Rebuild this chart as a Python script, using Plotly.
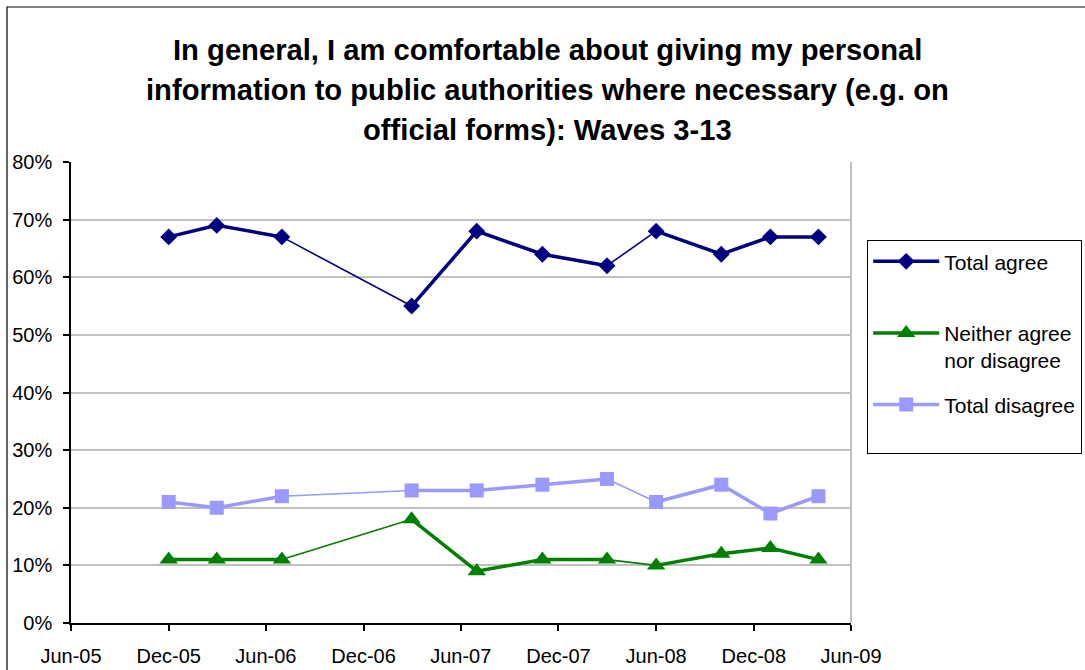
import plotly.graph_objects as go

# ---- data ----
dates = ["2005-12-01", "2006-03-01", "2006-07-01", "2007-03-01", "2007-07-01",
         "2007-11-01", "2008-03-01", "2008-06-01", "2008-10-01", "2009-01-01", "2009-04-01"]
total_agree = [67, 69, 67, 55, 68, 64, 62, 68, 64, 67, 67]
neither = [11, 11, 11, 18, 9, 11, 11, 10, 12, 13, 11]
total_disagree = [21, 20, 22, 23, 23, 24, 25, 21, 24, 19, 22]
thin_after = [2, 6]  # segments after these indices are drawn thin

tick_vals = ["2005-06-01", "2005-12-01", "2006-06-01", "2006-12-01", "2007-06-01",
             "2007-12-01", "2008-06-01", "2008-12-01", "2009-06-01"]
tick_text = ["Jun-05", "Dec-05", "Jun-06", "Dec-06", "Jun-07",
             "Dec-07", "Jun-08", "Dec-08", "Jun-09"]
y_ticks = [0, 10, 20, 30, 40, 50, 60, 70, 80]
y_text = ["0%", "10%", "20%", "30%", "40%", "50%", "60%", "70%", "80%"]

title_lines = ["In general, I am comfortable about giving my personal",
               "information to public authorities where necessary (e.g. on",
               "official forms): Waves 3-13"]

series = [
    ("Total agree<br> ", total_agree, "#000080", "diamond", 13),
    ("Neither agree<br>nor disagree", neither, "#008000", "triangle-up", 16),
    ("Total disagree<br> ", total_disagree, "#9999FF", "square", 14),
]

FONT = "Liberation Sans, Arial, sans-serif"
W, H = 1085, 670
# plot area in page pixels: x 71..851, y 162..623
L, R, T, B = 71, W - 851, 162, H - 623
PW, PH = W - L - R, H - T - B


def px_x(p):
    return (p - L) / PW


def px_y(p):
    return (H - B - p) / PH


fig = go.Figure()

for i, (name, vals, color, sym, msize) in enumerate(series):
    # thin segments
    tx, ty = [], []
    for k in thin_after:
        tx += [dates[k], dates[k + 1], None]
        ty += [vals[k], vals[k + 1], None]
    fig.add_trace(go.Scatter(x=tx, y=ty, mode="lines", showlegend=False,
                             hoverinfo="skip", legendgroup=f"g{i}",
                             line=dict(color=color, width=1.6)))
    # thick segments + markers
    xx, yy = [], []
    for k, (d, v) in enumerate(zip(dates, vals)):
        xx.append(d)
        yy.append(v)
        if k in thin_after:
            xx.append(None)
            yy.append(None)
    fig.add_trace(go.Scatter(x=xx, y=yy, mode="lines+markers", name=name,
                             legendgroup=f"g{i}", connectgaps=False,
                             line=dict(color=color, width=3.5),
                             marker=dict(symbol=sym, size=msize, color=color,
                                         line=dict(width=0))))

for j, line in enumerate(title_lines):
    fig.add_annotation(text=f"<b>{line}</b>", xref="paper", yref="paper",
                       x=px_x(547), y=px_y(50 + 40 * j), xanchor="center",
                       yanchor="middle", showarrow=False,
                       font=dict(family=FONT, size=29.2, color="black"))

# outer chart border
fig.add_shape(type="rect", xref="paper", yref="paper",
              x0=px_x(7), x1=px_x(1100), y0=px_y(7), y1=px_y(700),
              line=dict(color="black", width=1.2), fillcolor="rgba(0,0,0,0)",
              layer="above")
# right plot border
fig.add_shape(type="line", xref="paper", yref="paper", x0=1, x1=1, y0=0, y1=1,
              line=dict(color="#c0c0c0", width=2))

fig.update_layout(
    width=W, height=H,
    margin=dict(l=L, r=R, t=T, b=B, autoexpand=False),
    paper_bgcolor="white", plot_bgcolor="white",
    font=dict(family=FONT, size=20, color="black"),
    showlegend=True,
    legend=dict(x=px_x(867), y=px_y(240), xanchor="left", yanchor="top",
                bordercolor="black", borderwidth=1.2, bgcolor="white",
                font=dict(family=FONT, size=21, color="black"),
                tracegroupgap=14, itemwidth=66, entrywidth=205,
                valign="top", traceorder="grouped"),
    xaxis=dict(type="date", range=["2005-06-01", "2009-06-01"],
               tickvals=tick_vals, ticktext=tick_text, automargin=False,
               showgrid=False, showline=True, linecolor="black", linewidth=1.5,
               ticks="outside", ticklen=6, tickcolor="black", tickwidth=1.5,
               ticklabelstandoff=8,
               tickfont=dict(family=FONT, size=20, color="black")),
    yaxis=dict(range=[0, 80], tickvals=y_ticks, ticktext=y_text, automargin=False,
               showgrid=True, gridcolor="#c0c0c0", gridwidth=1.5,
               showline=True, linecolor="black", linewidth=1.5,
               ticks="outside", ticklen=6, tickcolor="black", tickwidth=1.5,
               ticklabelstandoff=7, zeroline=False,
               tickfont=dict(family=FONT, size=20, color="black")),
)

fig.write_html("out.html", config={"displayModeBar": False},
               post_script="document.body.style.margin='0';"
                           "document.body.style.overflow='hidden';")
